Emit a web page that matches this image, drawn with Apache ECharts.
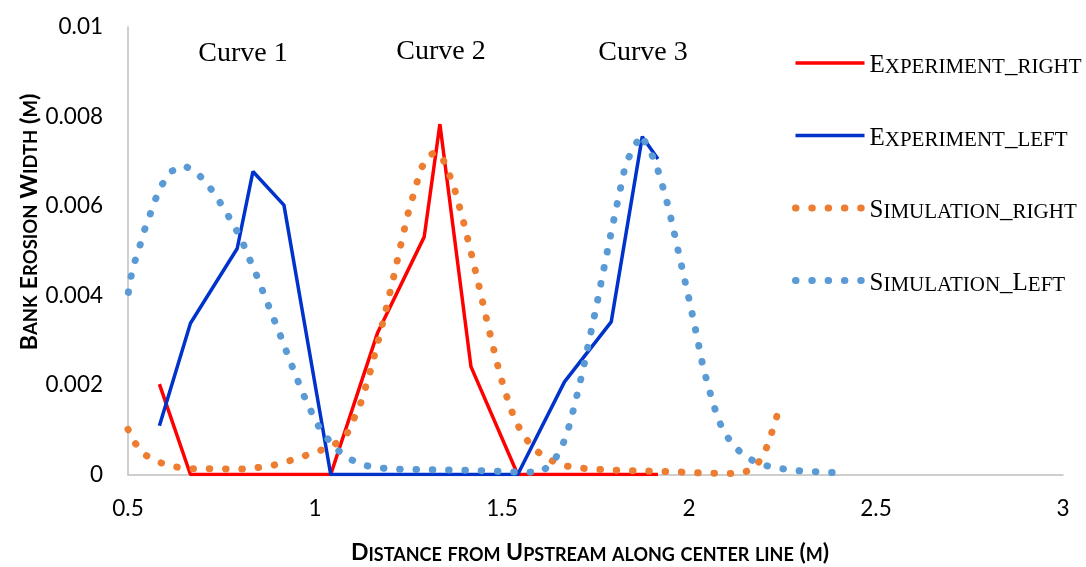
<!DOCTYPE html>
<html>
<head>
<meta charset="utf-8">
<script src="https://cdn.jsdelivr.net/npm/echarts@6/dist/echarts.min.js"></script>
<style>
  html, body { margin: 0; padding: 0; background: #ffffff; }
  #chart { width: 1086px; height: 567px; }
</style>
</head>
<body>
<div id="chart"></div>
<script>
// Measured stations along the channel (m) shared by both experiment records
const expDistance = [0.584, 0.667, 0.792, 0.834, 0.917, 1.042, 1.167, 1.292, 1.334, 1.417, 1.542, 1.667, 1.792, 1.875, 1.917];
const expRight    = [0.00202, 0, 0, 0, 0, 0, 0.00316, 0.00531, 0.00783, 0.00241, 0, 0, 0, 0, 0];
const expLeft     = [0.00109, 0.00338, 0.00505, 0.00677, 0.00602, 0, 0, 0, 0, 0, 0, 0.00207, 0.00341, 0.00755, 0.00705];

// Simulated right-bank erosion width
const simRightX = [0.500, 0.518, 0.545, 0.584, 0.626, 0.668, 0.713, 0.800, 0.843, 0.886, 0.929, 0.970, 1.012, 1.050, 1.085,
  1.103, 1.121, 1.146, 1.168, 1.189, 1.209, 1.228, 1.247, 1.271, 1.283, 1.304, 1.321, 1.338, 1.355, 1.371,
  1.394, 1.415, 1.435, 1.454, 1.474, 1.495, 1.521, 1.537, 1.558, 1.584, 1.618, 1.658, 1.701, 1.744, 1.787,
  1.874, 1.961, 2.048, 2.134, 2.172, 2.198, 2.214, 2.227, 2.240];
const simRightY = [0.00101, 0.00071, 0.00044, 0.00027, 0.00017, 0.00013, 0.00013, 0.00012, 0.00015, 0.0002, 0.0003, 0.00041, 0.00053, 0.00065, 0.0009,
  0.00123, 0.00156, 0.00225, 0.00295, 0.00366, 0.00437, 0.00508, 0.00578, 0.00648, 0.00683, 0.00712, 0.0072, 0.00713, 0.00679, 0.00645,
  0.00575, 0.00504, 0.00434, 0.00364, 0.00293, 0.00222, 0.00152, 0.00118, 0.00087, 0.00058, 0.00037, 0.00021, 0.00015, 0.00012, 0.0001,
  0.00008, 0.00006, 0.00003, 0.00002, 0.00012, 0.00041, 0.00074, 0.00109, 0.00144];

// Simulated left-bank erosion width
const simLeftX = [0.501, 0.508, 0.519, 0.532, 0.544, 0.559, 0.574, 0.592, 0.617, 0.652, 0.687, 0.716, 0.741, 0.764, 0.786,
  0.805, 0.822, 0.840, 0.872, 0.904, 0.935, 0.967, 0.985, 1.003, 1.028, 1.054, 1.089, 1.128, 1.171, 1.215,
  1.346, 1.432, 1.520, 1.562, 1.605, 1.636, 1.658, 1.674, 1.696, 1.716, 1.734, 1.752, 1.769, 1.786, 1.804,
  1.822, 1.831, 1.850, 1.872, 1.891, 1.910, 1.923, 1.946, 1.965, 1.984, 2.003, 2.021, 2.038, 2.061, 2.074,
  2.090, 2.114, 2.144, 2.181, 2.223, 2.266, 2.308, 2.352, 2.395];
const simLeftY = [0.00407, 0.00442, 0.00478, 0.00512, 0.00546, 0.00581, 0.00616, 0.00649, 0.00678, 0.0069, 0.00672, 0.00645, 0.00615, 0.00584, 0.00552,
  0.00522, 0.00487, 0.00453, 0.00385, 0.00318, 0.0025, 0.00182, 0.0015, 0.00116, 0.00086, 0.00059, 0.00036, 0.00021, 0.00015, 0.00012,
  0.0001, 0.00009, 0.00006, 0.00005, 0.00006, 0.00026, 0.00058, 0.00091, 0.00161, 0.00232, 0.00303, 0.00374, 0.00446, 0.00517, 0.00589,
  0.0066, 0.00695, 0.00727, 0.00759, 0.00731, 0.00698, 0.00664, 0.00594, 0.00523, 0.00452, 0.00381, 0.00309, 0.00239, 0.00169, 0.00134,
  0.001, 0.0007, 0.00044, 0.00026, 0.00016, 0.00011, 0.00007, 0.00006, 0.00004];

const seriesNames = ['Experiment_right', 'Experiment_left', 'Simulation_right', 'Simulation_Left'];
const curveLabels = ['Curve 1', 'Curve 2', 'Curve 3'];
const xTicks = { min: 0.5, max: 3, step: 0.5 };
const yTicks = { min: 0, max: 0.01, step: 0.002 };
const xTitle = 'Distance from Upstream along center line (m)';
const yTitle = 'Bank Erosion Width (m)';

const pairs = (xs, ys) => xs.map((x, i) => [x, ys[i]]);

// Turn a string into rich-text runs imitating small caps:
// capitals and symbols stay full size, lowercase letters become small capitals.
function smallCaps(str) {
  const runs = [];
  for (const ch of str) {
    const small = /[a-z]/.test(ch);
    const key = small ? 'S' : 'L';
    const out = small ? ch.toUpperCase() : ch;
    if (runs.length && runs[runs.length - 1].key === key) runs[runs.length - 1].text += out;
    else runs.push({ key, text: out });
  }
  return runs.map(r => '{' + r.key + '|' + r.text + '}').join('');
}

const serif = '"Liberation Serif", "Times New Roman", serif';
const sans = 'Lato, "Open Sans", sans-serif';

const legendRich = {
  L: { fontFamily: serif, fontSize: 25, lineHeight: 30, color: '#000', verticalAlign: 'bottom' },
  S: { fontFamily: serif, fontSize: 21, lineHeight: 30, color: '#000', verticalAlign: 'bottom' }
};
const yTitleRich = {
  L: { fontFamily: sans, fontWeight: 'bold', fontSize: 23.5, lineHeight: 28, fill: '#000', verticalAlign: 'bottom' },
  S: { fontFamily: sans, fontWeight: 'bold', fontSize: 18.5, lineHeight: 28, fill: '#000', verticalAlign: 'bottom' }
};
const xTitleRich = {
  L: { fontFamily: sans, fontWeight: 'bold', fontSize: 23, lineHeight: 28, fill: '#000', verticalAlign: 'bottom' },
  S: { fontFamily: sans, fontWeight: 'bold', fontSize: 18, lineHeight: 28, fill: '#000', verticalAlign: 'bottom' }
};

const colors = ['#ff0000', '#0033cc', '#ed7d31', '#5b9bd5'];
const dotted = { width: 7, type: [0.5, 15.8], cap: 'round' };

const chart = echarts.init(document.getElementById('chart'), null, { renderer: 'canvas' });

const option = {
  animation: false,
  backgroundColor: '#ffffff',
  color: colors,
  grid: { left: 128, right: 23, top: 27, bottom: 92.5, containLabel: false },
  xAxis: {
    type: 'value',
    min: xTicks.min, max: xTicks.max, interval: xTicks.step,
    axisLine: { show: true, lineStyle: { color: '#bfbfbf', width: 1.5 } },
    axisTick: { show: false },
    splitLine: { show: false },
    axisLabel: { fontFamily: sans, fontSize: 22.5, color: '#000', margin: 23 }
  },
  yAxis: {
    type: 'value',
    min: yTicks.min, max: yTicks.max, interval: yTicks.step,
    axisLine: { show: true, lineStyle: { color: '#bfbfbf', width: 1.5 } },
    axisTick: { show: false },
    splitLine: { show: false },
    axisLabel: {
      fontFamily: sans, fontSize: 22.5, color: '#000', margin: 25,
      formatter: v => String(+v.toFixed(3))
    }
  },
  legend: {
    orient: 'vertical',
    left: 787, top: 48,
    itemWidth: 69, itemHeight: 14, itemGap: 47.5,
    itemStyle: { opacity: 0 },
    lineStyle: { width: 'inherit', type: 'inherit', cap: 'inherit' },
    formatter: name => smallCaps(name),
    textStyle: { rich: legendRich },
    data: seriesNames
  },
  series: [
    {
      name: seriesNames[0], type: 'line', symbol: 'none', z: 2,
      lineStyle: { color: colors[0], width: 3.5 },
      data: pairs(expDistance, expRight)
    },
    {
      name: seriesNames[1], type: 'line', symbol: 'none', z: 3,
      lineStyle: { color: colors[1], width: 3.5 },
      data: pairs(expDistance, expLeft)
    },
    {
      name: seriesNames[2], type: 'line', symbol: 'none', z: 4,
      lineStyle: Object.assign({ color: colors[2] }, dotted),
      data: pairs(simRightX, simRightY)
    },
    {
      name: seriesNames[3], type: 'line', symbol: 'none', z: 5,
      lineStyle: Object.assign({ color: colors[3] }, dotted),
      data: pairs(simLeftX, simLeftY)
    }
  ],
  graphic: [
    { type: 'text', x: 243, y: 54, style: { text: curveLabels[0], font: '28px ' + serif, fill: '#000', align: 'center', verticalAlign: 'middle' } },
    { type: 'text', x: 441, y: 52, style: { text: curveLabels[1], font: '28px ' + serif, fill: '#000', align: 'center', verticalAlign: 'middle' } },
    { type: 'text', x: 643, y: 53, style: { text: curveLabels[2], font: '28px ' + serif, fill: '#000', align: 'center', verticalAlign: 'middle' } },
    { type: 'text', x: 590, y: 550, style: { text: smallCaps(xTitle), rich: xTitleRich, align: 'center', verticalAlign: 'middle' } },
    { type: 'text', x: 27, y: 222, rotation: Math.PI / 2, style: { text: smallCaps(yTitle), rich: yTitleRich, align: 'center', verticalAlign: 'middle' } }
  ]
};

chart.setOption(option);
</script>
</body>
</html>
